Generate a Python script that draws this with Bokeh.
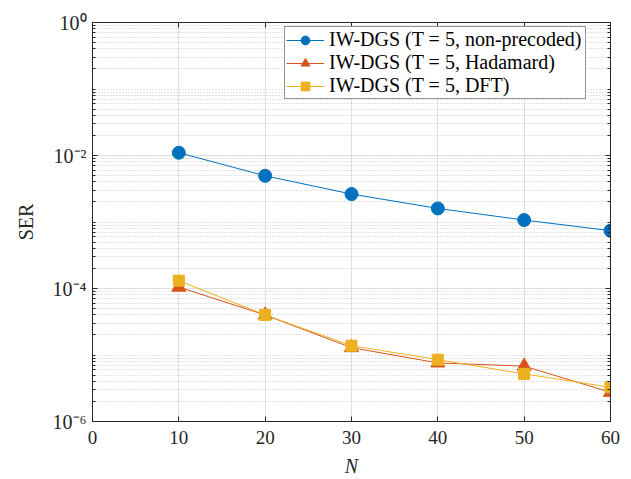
from bokeh.plotting import figure
from bokeh.models import FixedTicker, LinearAxis, LogAxis, CustomJSTickFormatter
from bokeh.embed import file_html
from bokeh.resources import INLINE

# ---- data ----
N = [10, 20, 30, 40, 50, 60]
ser_nonprecoded = [1.10e-2, 4.95e-3, 2.63e-3, 1.60e-3, 1.07e-3, 7.4e-4]
ser_hadamard = [1.05e-4, 4.0e-5, 1.29e-5, 7.6e-6, 6.8e-6, 2.75e-6]
ser_dft = [1.31e-4, 4.0e-5, 1.38e-5, 8.5e-6, 5.2e-6, 3.27e-6]

labels = ["IW-DGS (T = 5, non-precoded)",
          "IW-DGS (T = 5, Hadamard)",
          "IW-DGS (T = 5, DFT)"]
colors = ["#0072BD", "#D95319", "#EDB120"]

x_ticks = [0, 10, 20, 30, 40, 50, 60]
y_ticks = [1e-6, 1e-4, 1e-2, 1.0]
y_minor = [m * 10.0 ** k for k in range(-6, 0) for m in range(1, 10) if not (m == 1 and k % 2 == 0)]

FONT = "Liberation Serif"
AX = "#262626"

p = figure(width=631, height=479, y_axis_type="log",
           x_range=(0, 60), y_range=(1e-6, 1),
           output_backend="svg", toolbar_location=None,
           min_border_left=92, min_border_right=21,
           min_border_top=22, min_border_bottom=57)

p.background_fill_color = "white"
p.border_fill_color = "white"
p.outline_line_color = AX
p.outline_line_width = 1

xt = FixedTicker(ticks=x_ticks, minor_ticks=[])
yt = FixedTicker(ticks=y_ticks, minor_ticks=y_minor)

def style(ax, show):
    ax.axis_line_color = AX
    ax.major_tick_line_color = AX
    ax.minor_tick_line_color = AX
    ax.major_tick_in = 5
    ax.major_tick_out = 0
    ax.minor_tick_in = 3
    ax.minor_tick_out = 0
    ax.major_label_text_font = FONT
    ax.major_label_text_color = AX
    ax.axis_label_text_font = FONT
    ax.axis_label_text_color = AX
    ax.axis_label_text_font_size = "20px"
    if show:
        ax.major_label_text_font_size = "19px"
    else:
        ax.major_label_text_font_size = "1px"
        ax.major_label_text_color = None
        ax.major_label_standoff = 0

p.xaxis.ticker = xt
p.yaxis.ticker = yt
style(p.xaxis[0], True)
style(p.yaxis[0], True)

p.xaxis.major_label_standoff = 9
p.xaxis.axis_label = "N"
p.xaxis.axis_label_text_font_style = "italic"
p.xaxis.axis_label_standoff = 8

p.yaxis.formatter = CustomJSTickFormatter(code="""
const sup = {'0':'\u2070','1':'\u00b9','2':'\u00b2','3':'\u00b3','4':'\u2074',
             '5':'\u2075','6':'\u2076','7':'\u2077','8':'\u2078','9':'\u2079','-':'\u207b'};
const e = Math.round(Math.log10(tick));
return '10' + String(e).split('').map(c => sup[c]).join('');
""")
p.yaxis.major_label_text_font_size = "20px"
p.yaxis.major_label_standoff = 6
p.yaxis.axis_label = "SER"
p.yaxis.axis_label_text_font_style = "normal"
p.yaxis.axis_label_standoff = 13

top = LinearAxis(ticker=xt)
style(top, False)
p.add_layout(top, "above")
right = LogAxis(ticker=yt)
style(right, False)
p.add_layout(right, "right")

p.xgrid.ticker = xt
p.ygrid.ticker = yt
p.xgrid.grid_line_color = "#dedede"
p.ygrid.grid_line_color = "#dedede"
p.ygrid.minor_grid_line_color = "#c8c8c8"
p.ygrid.minor_grid_line_dash = "1 2"

series = [ser_nonprecoded, ser_hadamard, ser_dft]
markers = ["circle", "triangle", "square"]
sizes = [13, 14, 11]
for s, lab, c, m, sz in zip(series, labels, colors, markers, sizes):
    p.line(N, s, line_color=c, line_width=1, legend_label=lab)
    p.scatter(N, s, marker=m, size=sz, fill_color=c, line_color=c, legend_label=lab)

lg = p.legend[0]
lg.location = (192, 322)
lg.label_text_font = FONT
lg.label_text_font_size = "20px"
lg.label_text_color = "black"
lg.label_height = 22
lg.label_width = 255
lg.glyph_height = 22
lg.glyph_width = 38
lg.label_standoff = 5
lg.spacing = 0
lg.padding = 1
lg.margin = 0
lg.border_line_color = AX
lg.border_line_width = 1
lg.background_fill_color = "white"
lg.background_fill_alpha = 1

open("out.html", "w").write(file_html(p, INLINE))
